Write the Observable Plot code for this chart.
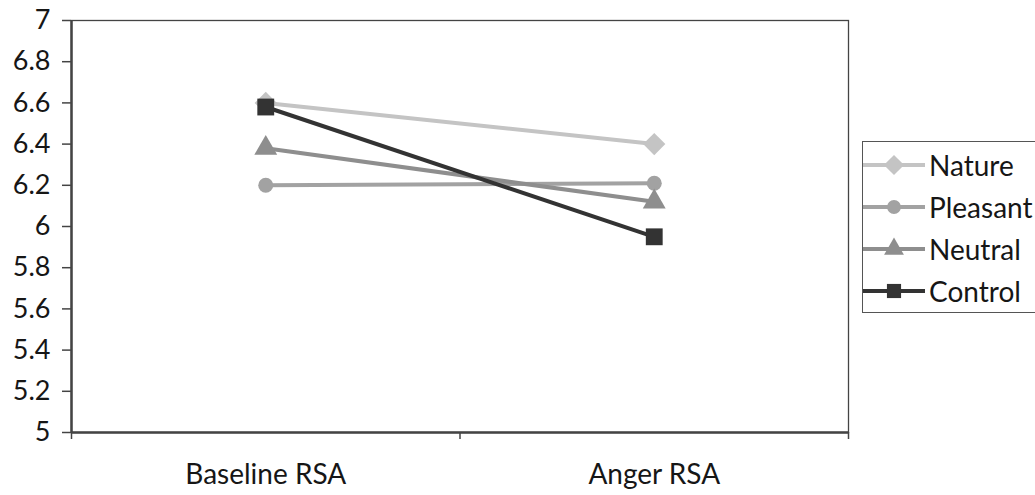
<!DOCTYPE html>
<html>
<head>
<meta charset="utf-8">
<script src="https://cdn.jsdelivr.net/npm/d3@7"></script>
<script src="https://cdn.jsdelivr.net/npm/@observablehq/plot@0.6"></script>
<style>
  html, body { margin: 0; padding: 0; background: #fff; }
  #wrap { position: relative; width: 1035px; height: 495px; font-family: Lato, "Open Sans", sans-serif; overflow: hidden; }
  #legend { position: absolute; left: 862px; top: 141px; border: 1.5px solid #555; border-right: none; width: 180px; box-sizing: border-box; padding: 2px 0 0 0; background: #fff; }
  .row { display: flex; align-items: center; height: 42px; font-size: 28px; color: #161616; }
  .row svg { flex: none; margin-right: 4px; }
</style>
</head>
<body>
<div id="wrap"></div>
<script>
const conditions = ["Baseline RSA", "Anger RSA"];
const groups = ["Nature", "Pleasant", "Neutral", "Control"];
const nature = [6.60, 6.40];
const pleasant = [6.20, 6.21];
const neutral = [6.38, 6.12];
const control = [6.58, 5.95];
const yTicks = [5, 5.2, 5.4, 5.6, 5.8, 6, 6.2, 6.4, 6.6, 6.8, 7];

const colors = {Nature: "#c4c4c4", Pleasant: "#a2a2a2", Neutral: "#8e8e8e", Control: "#333333"};
const symbols = {Nature: "diamond2", Pleasant: "circle", Neutral: "triangle", Control: "square"};
const d3Symbols = {Nature: d3.symbolDiamond2, Pleasant: d3.symbolCircle, Neutral: d3.symbolTriangle, Control: d3.symbolSquare};
const seriesValues = {Nature: nature, Pleasant: pleasant, Neutral: neutral, Control: control};

const data = [];
for (const g of groups) {
  seriesValues[g].forEach((v, i) => data.push({group: g, cond: conditions[i], xi: i + 0.5, value: v}));
}

const chart = Plot.plot({
  width: 1035,
  height: 495,
  marginLeft: 71,
  marginRight: 187,
  marginTop: 20,
  marginBottom: 63,
  style: {fontFamily: "Lato, 'Open Sans', sans-serif", fontSize: "27px", color: "#161616", background: "transparent"},
  x: {domain: [0, conditions.length], axis: null},
  y: {domain: [5, 7], axis: null},
  marks: [
    Plot.frame({stroke: "#444", strokeWidth: 1.3}),
    Plot.axisY({ticks: yTicks, tickFormat: d => String(+d.toFixed(1)), tickSize: 9, tickPadding: 12, stroke: "#444", strokeWidth: 1.5, fontSize: 27, label: null}),
    Plot.axisX({ticks: d3.range(conditions.length + 1), tickFormat: () => "", tickSize: 7, stroke: "#444", strokeWidth: 1.5, label: null}),
    Plot.axisX({ticks: conditions.map((c, i) => i + 0.5), tickFormat: d => conditions[d - 0.5], tickSize: 0, tickPadding: 32, fontSize: 28, label: null}),
    Plot.ruleX([0], {stroke: "#444", strokeWidth: 2.5}),
    Plot.ruleY([5], {stroke: "#444", strokeWidth: 2.5}),
    Plot.line(data, {x: "xi", y: "value", z: "group", stroke: d => colors[d.group], strokeWidth: 4}),
    ...groups.map(g => Plot.dot(data.filter(d => d.group === g), {
      x: "xi", y: "value", symbol: () => symbols[g], fill: colors[g], stroke: "none",
      r: g === "Control" ? 9.5 : g === "Pleasant" ? 7.5 : g === "Nature" ? 10 : 8.5
    }))
  ]
});
document.getElementById("wrap").appendChild(chart);
chart.style.position = "absolute"; chart.style.left = "0"; chart.style.top = "0";

// Legend
const legend = document.createElement("div");
legend.id = "legend";
for (const g of groups) {
  const row = document.createElement("div");
  row.className = "row";
  const sym = d3.symbol(d3Symbols[g], g === "Control" ? 200 : g === "Pleasant" ? 150 : g === "Nature" ? 260 : 170)();
  row.innerHTML = `<svg width="62" height="24" viewBox="0 0 62 24"><line x1="0" x2="62" y1="12" y2="12" stroke="${colors[g]}" stroke-width="4"/><path transform="translate(31,12)" d="${sym}" fill="${colors[g]}"/></svg><span>${g}</span>`;
  legend.appendChild(row);
}
document.getElementById("wrap").appendChild(legend);
</script>
</body>
</html>
